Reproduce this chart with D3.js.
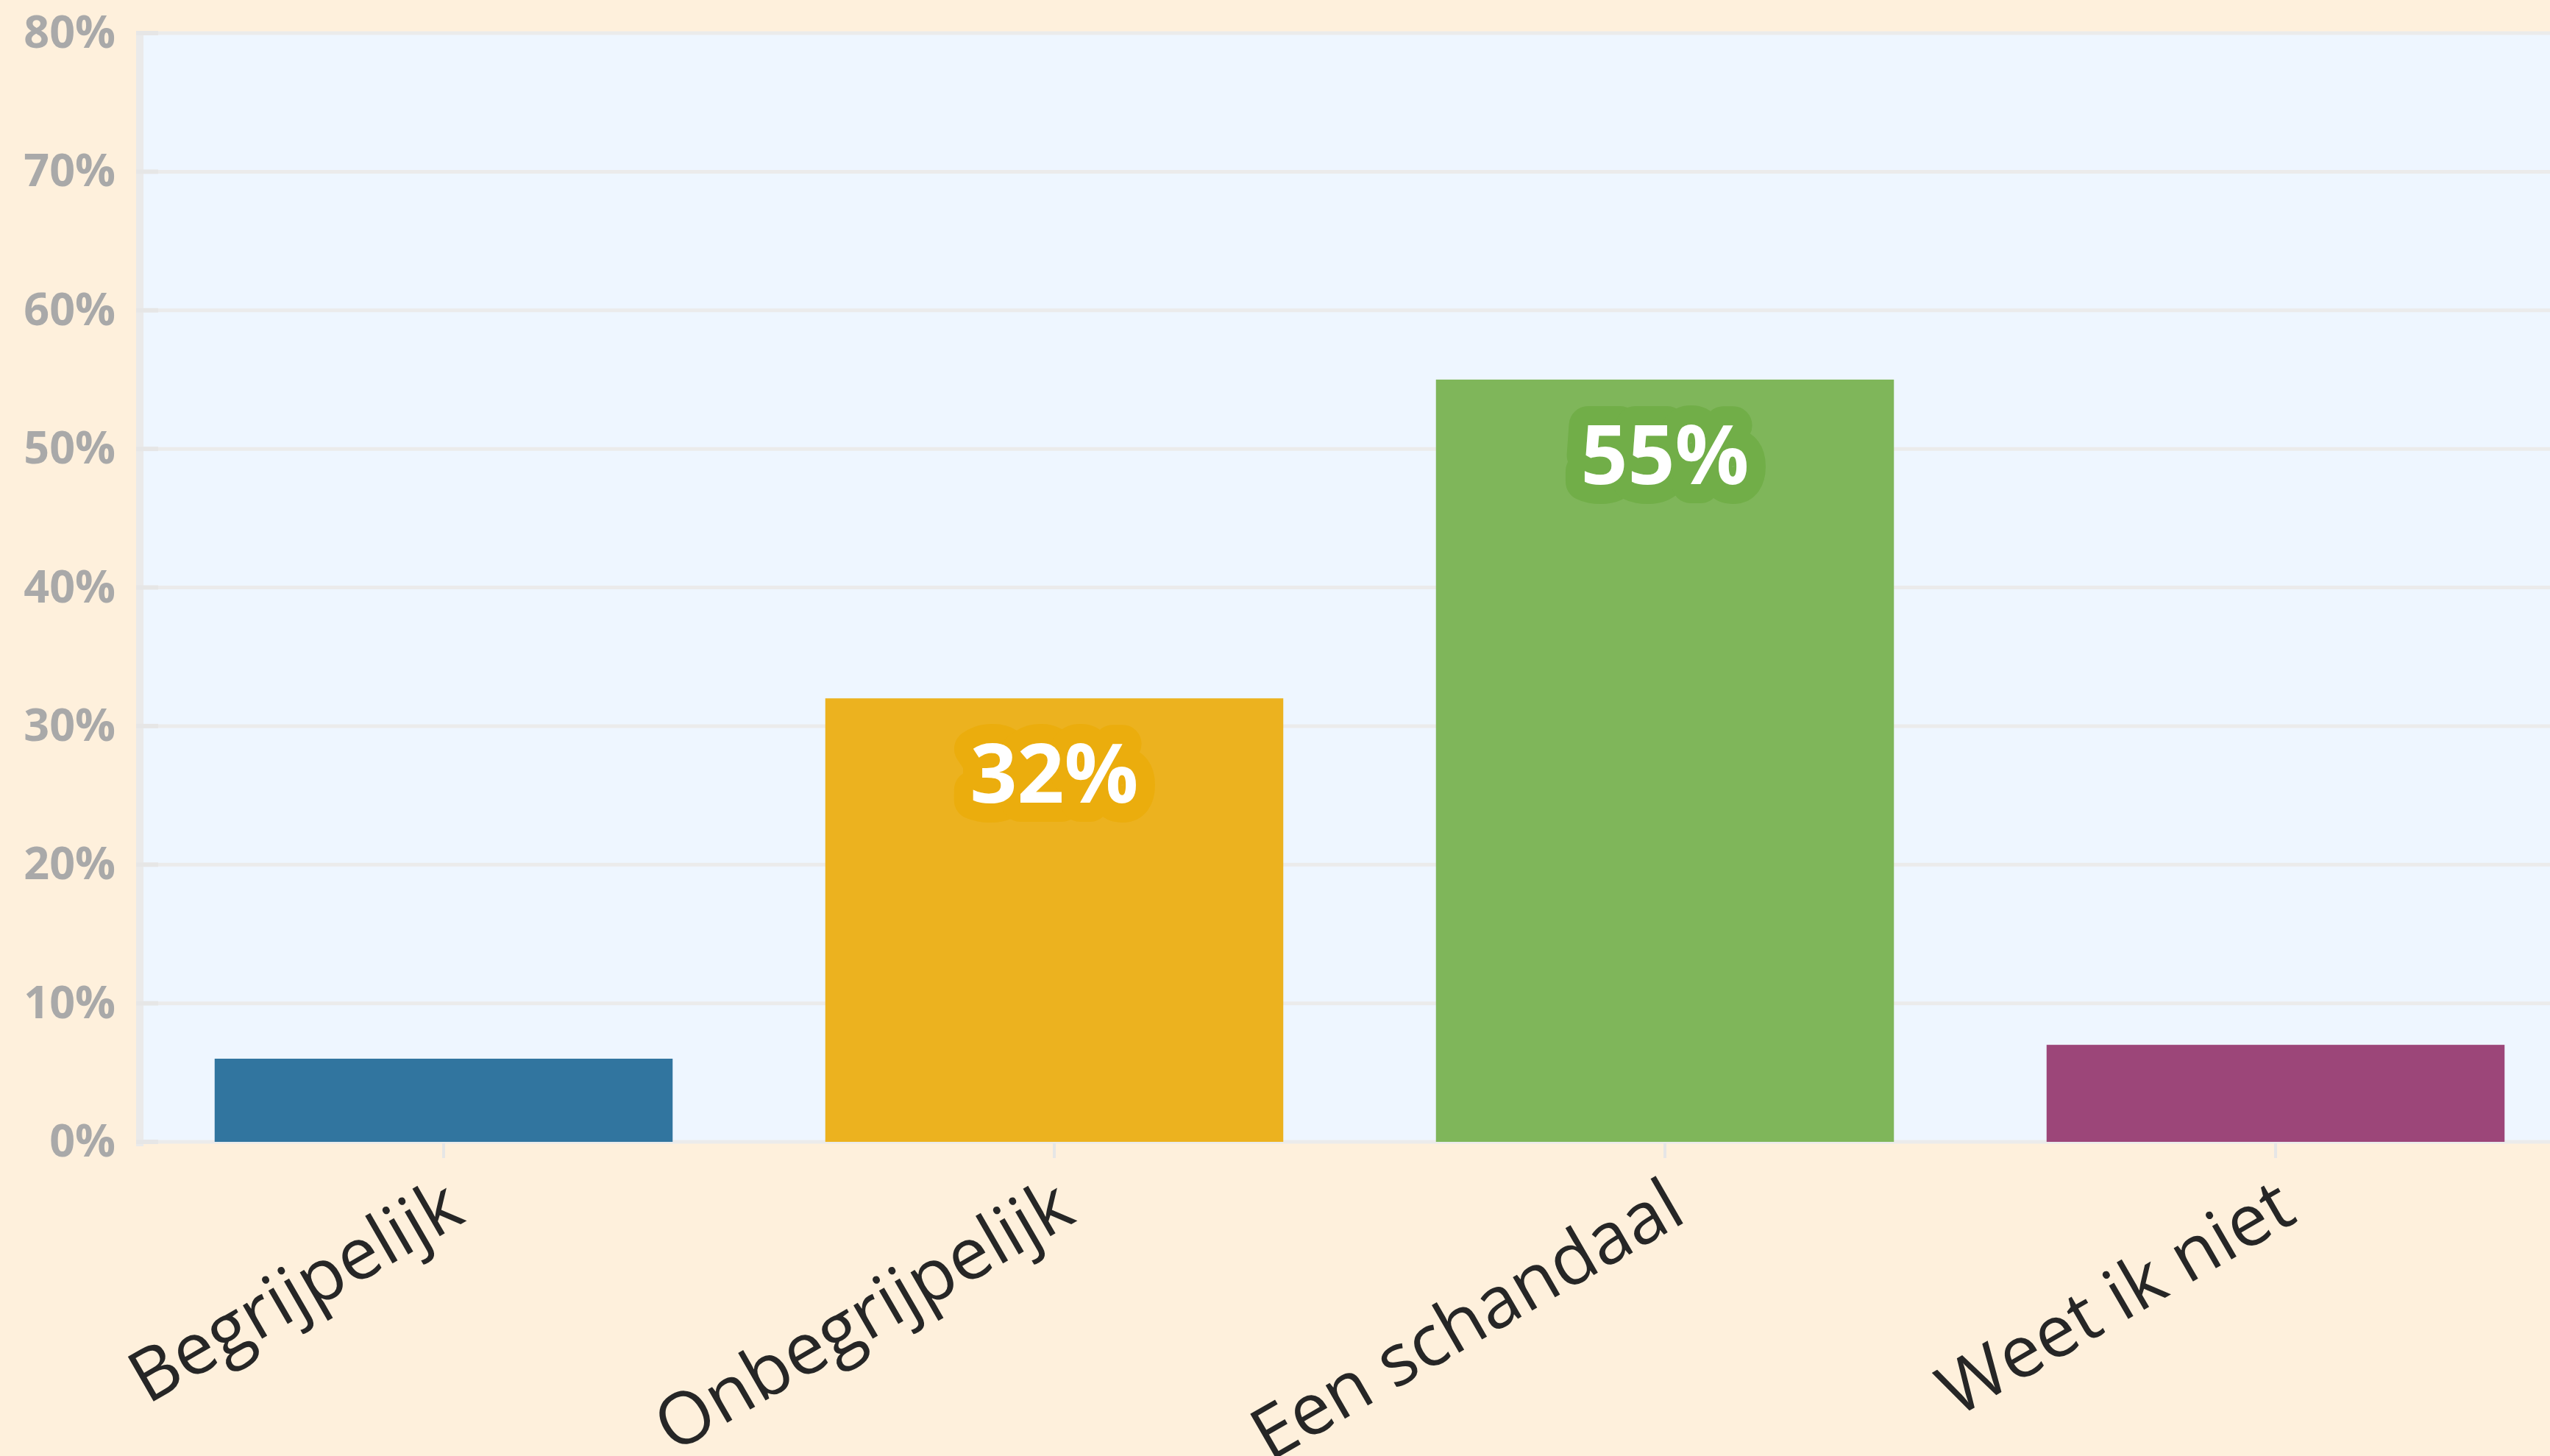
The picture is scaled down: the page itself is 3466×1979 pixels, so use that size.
<!DOCTYPE html>
<html>
<head>
<meta charset="utf-8">
<script src="https://cdn.jsdelivr.net/npm/d3@7"></script>
<style>
  html, body { margin: 0; padding: 0; background: #FEF0DC; }
  svg { display: block; }
</style>
</head>
<body>
<svg id="chart" width="3466" height="1979"></svg>
<script>
const categories = ["Begrijpelijk", "Onbegrijpelijk", "Een schandaal", "Weet ik niet"];
const values = [0.06, 0.32, 0.55, 0.07];
const colors = ["#31759F", "#ECB21F", "#7FB65A", "#9C4679"];
const haloColors = ["#2C6D96", "#EBAD0D", "#71AE48", "#913D6F"];
const shownLabels = [false, true, true, false];
const yTicks = [0, 0.1, 0.2, 0.3, 0.4, 0.5, 0.6, 0.7, 0.8];

const W = 3466, H = 1979;
const plot = { left: 185, right: 3466, top: 45, bottom: 1552 };

const svg = d3.select("#chart");
svg.append("rect").attr("width", W).attr("height", H).attr("fill", "#FEF0DC");

const x = d3.scaleBand()
  .domain(categories)
  .range([188, 3508])
  .paddingInner(0.25)
  .paddingOuter(0.125);

const y = d3.scaleLinear().domain([0, 0.8]).range([plot.bottom, plot.top]);

// plot background
svg.append("rect")
  .attr("x", plot.left).attr("y", plot.top)
  .attr("width", plot.right - plot.left).attr("height", plot.bottom - plot.top)
  .attr("fill", "#EEF6FF");

// gridlines
svg.append("g").selectAll("line").data(yTicks).join("line")
  .attr("x1", plot.left).attr("x2", plot.right)
  .attr("y1", d => y(d)).attr("y2", d => y(d))
  .attr("stroke", "#EBEBEB").attr("stroke-width", 5);

// left axis line
svg.append("rect")
  .attr("x", plot.left).attr("y", plot.top - 3)
  .attr("width", 10).attr("height", plot.bottom - plot.top + 9)
  .attr("fill", "#EAEAEA");
svg.append("g").selectAll("line").data(yTicks).join("line")
  .attr("x1", plot.left).attr("x2", plot.left + 30)
  .attr("y1", d => y(d)).attr("y2", d => y(d))
  .attr("stroke", "#E6E6E6").attr("stroke-width", 6);

// y labels
const yAxis = d3.axisLeft(y).tickValues(yTicks).tickFormat(d3.format(".0%")).tickSize(0).tickPadding(28);
const yg = svg.append("g").attr("transform", `translate(${plot.left},0)`).call(yAxis);
yg.select(".domain").remove();
yg.selectAll("text")
  .attr("font-family", "'Open Sans', 'Noto Sans', sans-serif")
  .attr("font-weight", 700)
  .attr("font-size", 61)
  .attr("fill", "#A9A9A9");

// bars
svg.append("g").selectAll("rect").data(categories).join("rect")
  .attr("x", d => x(d))
  .attr("y", (d, i) => y(values[i]))
  .attr("width", x.bandwidth())
  .attr("height", (d, i) => y(0) - y(values[i]))
  .attr("fill", (d, i) => colors[i]);

// x axis ticks + labels
const xAxis = d3.axisBottom(x).tickSize(20).tickPadding(0);
const xg = svg.append("g").attr("transform", `translate(0,${plot.bottom + 2})`).call(xAxis);
xg.select(".domain").remove();
xg.selectAll(".tick line").attr("stroke", "#E6E6E6").attr("stroke-width", 4);
xg.selectAll("text")
  .attr("font-family", "'Open Sans', 'Noto Sans', sans-serif")
  .attr("font-size", 98)
  .attr("fill", "#262626")
  .attr("text-anchor", "end")
  .attr("y", 0).attr("dy", 0)
  .attr("transform", "translate(12,70) rotate(-30) translate(0,40)");

// value labels
const lab = svg.append("g");
categories.forEach((c, i) => {
  if (!shownLabels[i]) return;
  const cx = x(c) + x.bandwidth() / 2;
  const by = y(values[i]) + 142;
  const txt = d3.format(".0%")(values[i]);
  lab.append("text")
    .attr("x", cx).attr("y", by)
    .attr("text-anchor", "middle")
    .attr("font-family", "'Open Sans', 'Noto Sans', sans-serif")
    .attr("font-weight", 700)
    .attr("font-size", 112)
    .attr("fill", "#FFFFFF")
    .attr("stroke", haloColors[i])
    .attr("stroke-width", 52)
    .attr("stroke-linejoin", "round")
    .attr("paint-order", "stroke")
    .text(txt);
});
</script>
</body>
</html>
